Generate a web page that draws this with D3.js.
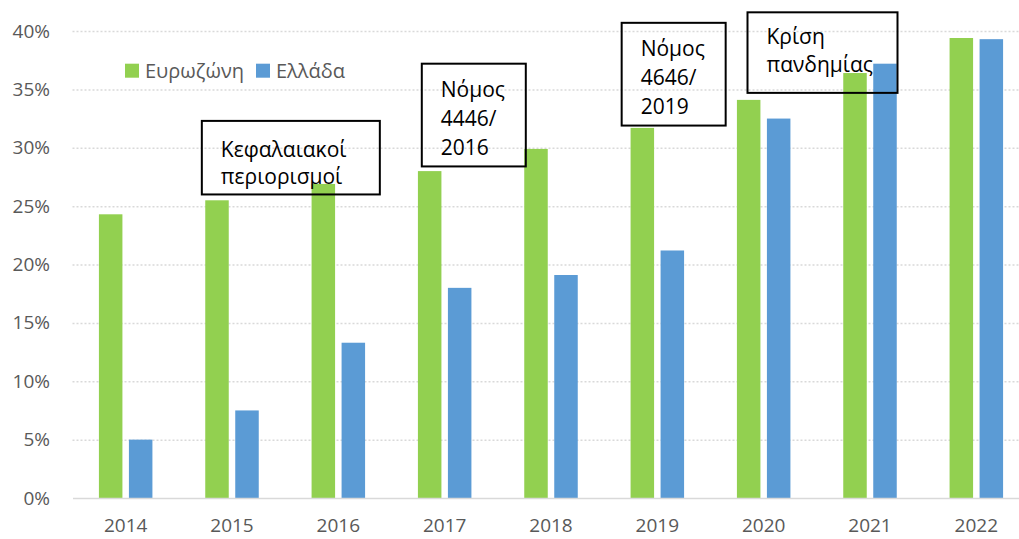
<!DOCTYPE html>
<html>
<head>
<meta charset="utf-8">
<script src="https://cdn.jsdelivr.net/npm/d3@7"></script>
<style>
  body { margin: 0; background: #fff; }
  svg { font-family: "Open Sans", "Noto Sans", sans-serif; }
</style>
</head>
<body>
<svg id="drawing_region"></svg>
<script>
const years = ["2014", "2015", "2016", "2017", "2018", "2019", "2020", "2021", "2022"];
const eurozone = [24.3, 25.5, 26.9, 28.0, 29.9, 31.7, 34.1, 36.4, 39.4];
const greece = [5.0, 7.5, 13.3, 18.0, 19.1, 21.2, 32.5, 37.2, 39.3];
const seriesNames = ["Ευρωζώνη", "Ελλάδα"];
const yTicks = [0, 5, 10, 15, 20, 25, 30, 35, 40];

// annotation boxes: anchored at a year band, top/bottom given in % of the y axis
const notes = [
    { lines: ["Κεφαλαιακοί", "περιορισμοί"], x0: "2015", top: 32.3, bottom: 26.0, dx: 23, w: 178, first: 36, step: 27 },
    { lines: ["Νόμος", "4446/", "2016"], x0: "2017", top: 37.2, bottom: 28.4, dx: 30.3, w: 104, first: 33, step: 29 },
    { lines: ["Νόμος", "4646/", "2019"], x0: "2019", top: 40.7, bottom: 31.9, dx: 17.5, w: 104, first: 33, step: 29 },
    { lines: ["Κρίση", "πανδημίας"], x0: "2020", top: 41.6, bottom: 34.7, dx: 37, w: 150, first: 32, step: 28 }
];

const colors = ["#92D050", "#5B9BD5"];

// the plot area runs a bit past the right edge of the picture (it gets clipped there)
const config = {
    width: 1019,
    height: 539,
    plot_width: 957,
    margin: { top: 31, bottom: 41, left: 72.5 }
};

const svg = d3.select("#drawing_region")
    .attr("width", config.width)
    .attr("height", config.height);

const inner_width = config.plot_width;
const inner_height = config.height - config.margin.top - config.margin.bottom;

const chart = svg.append("g")
    .attr("transform", `translate(${config.margin.left}, ${config.margin.top})`);

const xscale = d3.scaleBand()
    .domain(years)
    .range([0, inner_width])
    .paddingInner(0)
    .paddingOuter(0);

const yscale = d3.scaleLinear()
    .domain([0, 40])
    .range([inner_height, 0]);

// gridlines
chart.append("g")
    .selectAll("line")
    .data(yTicks.filter(d => d > 0))
    .enter()
    .append("line")
    .attr("x1", 0)
    .attr("x2", inner_width)
    .attr("y1", d => yscale(d) + 0.5)
    .attr("y2", d => yscale(d) + 0.5)
    .attr("stroke", "#d9d9d9")
    .attr("stroke-width", 1.5)
    .attr("stroke-dasharray", "2,2");

// y axis labels
const yaxis = d3.axisLeft(yscale)
    .tickValues(yTicks)
    .tickFormat(d => d + "%")
    .tickSize(0)
    .tickPadding(22.5);

chart.append("g")
    .call(yaxis)
    .call(g => g.select(".domain").remove())
    .selectAll("text")
    .attr("font-family", "Open Sans, sans-serif")
    .attr("font-size", "19px")
    .attr("fill", "#595959");

// bars
const bw = 23.5, gap = 6.5;
const groups = [eurozone, greece];
groups.forEach((vals, si) => {
    chart.append("g")
        .selectAll("rect")
        .data(vals)
        .enter()
        .append("rect")
        .attr("x", (d, i) => xscale(years[i]) + xscale.bandwidth() / 2 - bw - gap / 2 + si * (bw + gap))
        .attr("y", d => yscale(d))
        .attr("width", bw)
        .attr("height", d => yscale(0) - yscale(d))
        .attr("fill", colors[si]);
});

// x axis
const xaxis = d3.axisBottom(xscale)
    .tickSize(0)
    .tickPadding(21);

const xg = chart.append("g")
    .attr("transform", `translate(0, ${inner_height})`)
    .call(xaxis);
xg.select(".domain")
    .attr("stroke", "#d9d9d9")
    .attr("stroke-width", 1.5);
xg.selectAll("text")
    .attr("font-family", "Open Sans, sans-serif")
    .attr("font-size", "19px")
    .attr("fill", "#595959");

// legend
const legend = chart.append("g")
    .attr("transform", `translate(${xscale("2014") + 52.5}, ${yscale(36.6)})`);
const legendX = [0, 131];
seriesNames.forEach((name, i) => {
    legend.append("rect")
        .attr("x", legendX[i])
        .attr("y", -7)
        .attr("width", 14)
        .attr("height", 14)
        .attr("fill", colors[i]);
    legend.append("text")
        .attr("x", legendX[i] + 20)
        .attr("y", 7)
        .attr("font-size", "20px")
        .attr("fill", "#595959")
        .text(name);
});

// annotation boxes
notes.forEach(n => {
    const x = xscale(n.x0) + n.dx;
    const y0 = yscale(n.top), y1 = yscale(n.bottom);
    const g = chart.append("g");
    g.append("rect")
        .attr("x", x)
        .attr("y", y0)
        .attr("width", n.w)
        .attr("height", y1 - y0)
        .attr("fill", "none")
        .attr("stroke", "#000")
        .attr("stroke-width", 2);
    g.selectAll("text")
        .data(n.lines)
        .enter()
        .append("text")
        .attr("x", x + 19)
        .attr("y", (d, i) => y0 + n.first + i * n.step)
        .attr("font-size", "21px")
        .attr("fill", "#000")
        .text(d => d);
});
</script>
</body>
</html>
